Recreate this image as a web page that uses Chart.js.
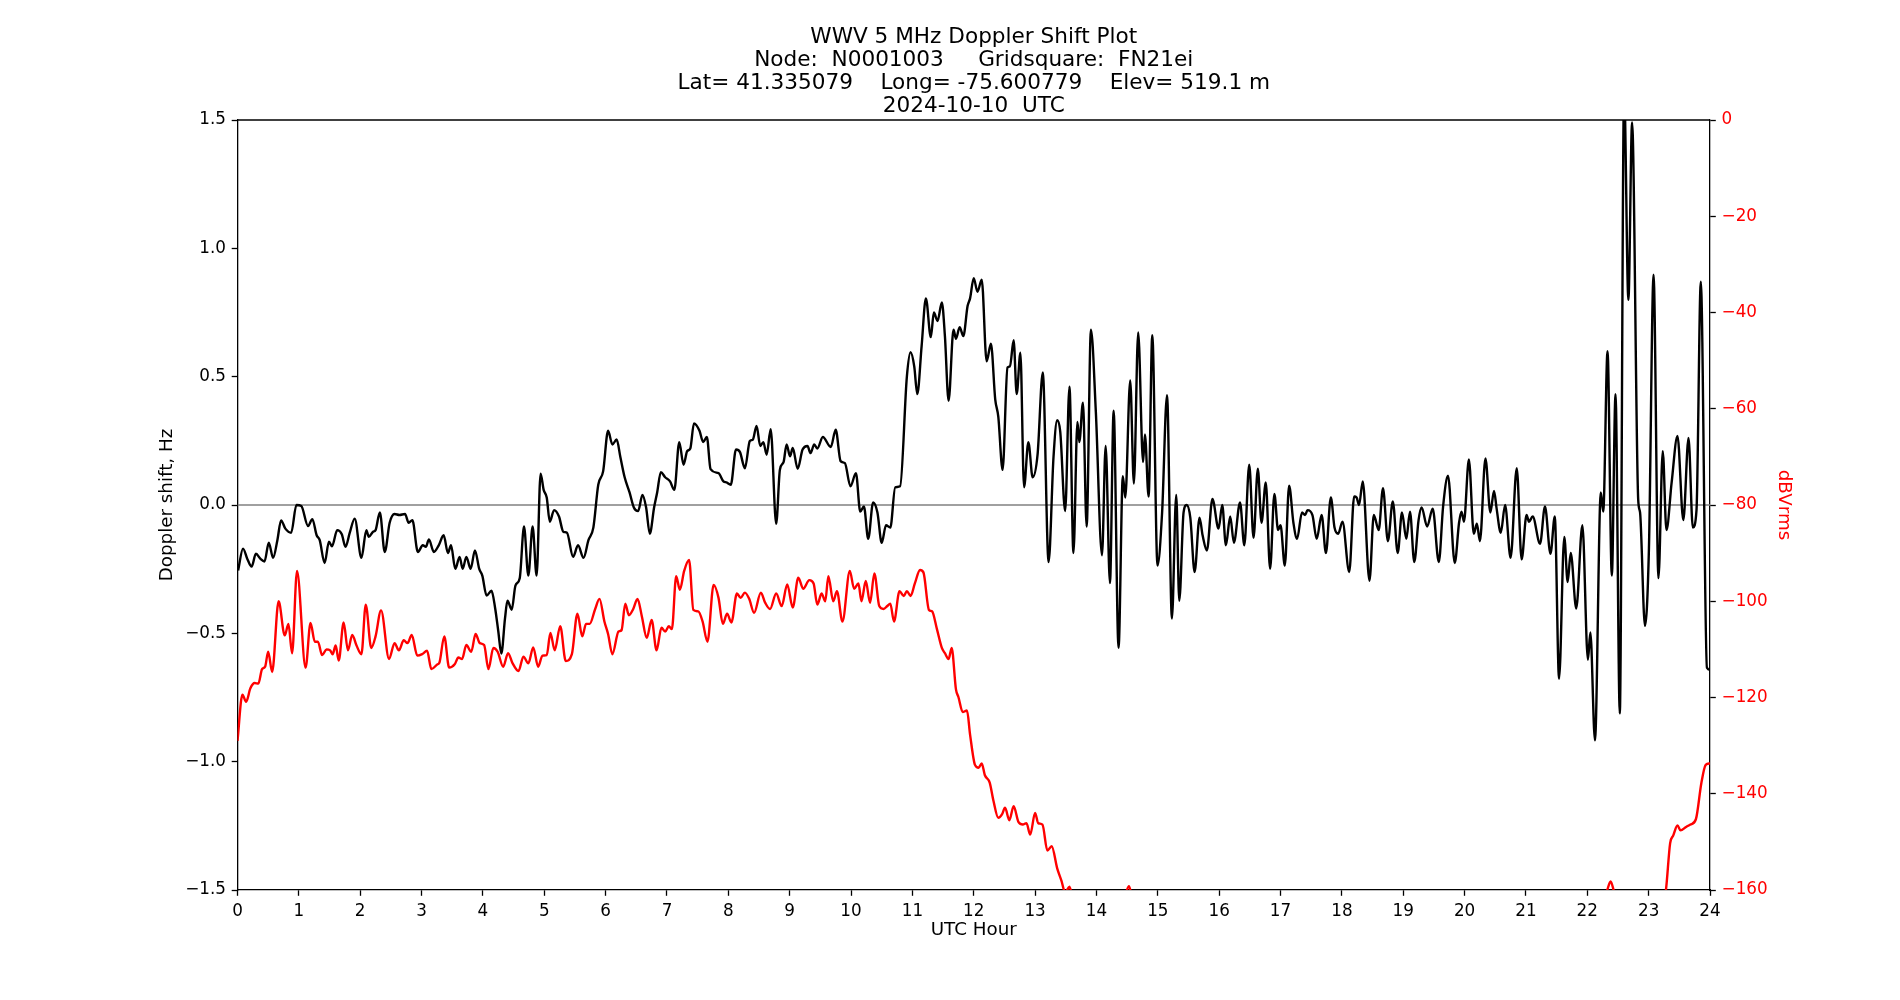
<!DOCTYPE html>
<html><head><meta charset="utf-8">
<script src="https://cdn.jsdelivr.net/npm/chart.js@4.4.1/dist/chart.umd.min.js"></script>
<style>html,body{margin:0;padding:0;background:#fff;}canvas{display:block;}</style>
</head><body>
<canvas id="c" width="1900" height="1000"></canvas>
<script>
const titleLines = [
  "WWV 5 MHz Doppler Shift Plot",
  "Node:  N0001003     Gridsquare:  FN21ei",
  "Lat= 41.335079    Long= -75.600779    Elev= 519.1 m",
  "2024-10-10  UTC"
];
const xAxisLabel = "UTC Hour";
const leftAxisLabel = "Doppler shift, Hz";
const rightAxisLabel = "dBVrms";

const hourTicks = [0,1,2,3,4,5,6,7,8,9,10,11,12,13,14,15,16,17,18,19,20,21,22,23,24];
const dopplerTicks = [-1.5,-1.0,-0.5,0.0,0.5,1.0,1.5];
const powerTicks = [-160,-140,-120,-100,-80,-60,-40,-20,0];

const dopplerHours = [0.01,0.09,0.16,0.23,0.30,0.375,0.44,0.51,0.58,0.65,0.71,0.78,0.875,0.96,1.04,1.15,1.22,1.29,1.34,1.42,1.49,1.54,1.625,1.70,1.76,1.83,1.91,2.02,2.10,2.14,2.21,2.25,2.32,2.40,2.48,2.56,2.64,2.73,2.79,2.85,2.94,3.02,3.07,3.12,3.20,3.28,3.36,3.43,3.48,3.55,3.62,3.67,3.73,3.80,3.87,3.94,3.99,4.06,4.14,4.20,4.25,4.30,4.36,4.40,4.47,4.53,4.60,4.67,4.74,4.81,4.875,4.94,4.99,5.04,5.09,5.16,5.24,5.31,5.37,5.47,5.55,5.64,5.72,5.80,5.88,5.96,6.04,6.11,6.18,6.24,6.31,6.39,6.46,6.53,6.60,6.66,6.72,6.79,6.84,6.90,6.97,7.05,7.12,7.20,7.27,7.33,7.38,7.44,7.53,7.59,7.65,7.71,7.84,7.92,7.97,8.04,8.125,8.19,8.27,8.35,8.40,8.46,8.52,8.57,8.625,8.69,8.78,8.84,8.90,8.95,9.005,9.05,9.13,9.21,9.29,9.34,9.40,9.45,9.54,9.67,9.75,9.83,9.90,9.99,10.08,10.15,10.21,10.28,10.36,10.43,10.50,10.57,10.64,10.72,10.80,10.91,10.97,11.03,11.08,11.15,11.22,11.30,11.35,11.41,11.48,11.53,11.59,11.67,11.71,11.77,11.83,11.90,11.94,12.00,12.06,12.13,12.21,12.28,12.35,12.40,12.47,12.55,12.59,12.65,12.70,12.76,12.82,12.89,12.96,13.04,13.125,13.22,13.30,13.36,13.41,13.49,13.56,13.625,13.69,13.72,13.78,13.84,13.91,13.99,14.09,14.15,14.22,14.28,14.36,14.43,14.47,14.55,14.61,14.68,14.76,14.79,14.85,14.91,14.995,15.07,15.15,15.23,15.30,15.35,15.42,15.47,15.53,15.60,15.68,15.73,15.80,15.89,15.99,16.05,16.11,16.18,16.24,16.34,16.41,16.49,16.56,16.63,16.69,16.76,16.83,16.90,16.96,17.00,17.07,17.14,17.21,17.27,17.35,17.40,17.44,17.52,17.59,17.67,17.74,17.82,17.88,17.94,18.01,18.12,18.20,18.24,18.28,18.34,18.45,18.52,18.60,18.67,18.75,18.83,18.91,18.98,19.05,19.11,19.18,19.25,19.30,19.39,19.48,19.58,19.65,19.73,19.84,19.91,19.95,19.99,20.07,20.15,20.20,20.25,20.34,20.42,20.48,20.52,20.59,20.66,20.75,20.85,20.93,21.01,21.05,21.11,21.23,21.31,21.40,21.47,21.54,21.625,21.68,21.73,21.82,21.92,22.01,22.05,22.125,22.22,22.26,22.33,22.40,22.46,22.53,22.60,22.67,22.73,22.83,22.86,22.94,23.005,23.08,23.16,23.23,23.29,23.375,23.47,23.565,23.65,23.72,23.78,23.85,23.95,24.0];
const dopplerHz = [-0.255,-0.17,-0.21,-0.24,-0.19,-0.21,-0.22,-0.147,-0.206,-0.137,-0.06,-0.092,-0.108,0.0,-0.004,-0.082,-0.055,-0.118,-0.137,-0.226,-0.143,-0.161,-0.098,-0.114,-0.163,-0.108,-0.053,-0.206,-0.098,-0.124,-0.104,-0.098,-0.029,-0.183,-0.069,-0.035,-0.039,-0.035,-0.069,-0.059,-0.183,-0.157,-0.163,-0.134,-0.183,-0.157,-0.118,-0.187,-0.157,-0.249,-0.202,-0.249,-0.202,-0.249,-0.177,-0.249,-0.275,-0.353,-0.334,-0.403,-0.491,-0.579,-0.442,-0.373,-0.408,-0.314,-0.285,-0.084,-0.275,-0.084,-0.275,0.122,0.059,0.029,-0.065,-0.020,-0.045,-0.104,-0.108,-0.202,-0.157,-0.206,-0.137,-0.088,0.079,0.132,0.289,0.236,0.255,0.187,0.108,0.049,-0.010,-0.024,0.039,-0.010,-0.112,-0.010,0.049,0.128,0.108,0.092,0.059,0.245,0.157,0.210,0.220,0.318,0.289,0.245,0.265,0.14,0.124,0.092,0.088,0.079,0.216,0.206,0.143,0.249,0.255,0.308,0.230,0.245,0.196,0.295,-0.073,0.137,0.167,0.236,0.190,0.222,0.141,0.216,0.230,0.202,0.236,0.220,0.265,0.226,0.293,0.171,0.163,0.073,0.124,-0.026,-0.006,-0.132,0.010,-0.029,-0.147,-0.079,-0.088,0.069,0.073,0.50,0.595,0.540,0.432,0.618,0.805,0.654,0.750,0.717,0.789,0.658,0.406,0.683,0.648,0.693,0.658,0.776,0.805,0.884,0.831,0.878,0.560,0.628,0.412,0.344,0.137,0.536,0.540,0.642,0.432,0.593,0.069,0.245,0.108,0.196,0.516,-0.222,0.187,0.330,0.285,-0.024,0.461,-0.187,0.324,0.245,0.399,-0.084,0.683,0.363,-0.196,0.230,-0.304,0.367,-0.556,0.112,0.029,0.485,0.084,0.672,0.167,0.275,0.033,0.662,-0.236,-0.029,0.428,-0.442,0.039,-0.373,-0.029,0.0,-0.05,-0.261,-0.049,-0.118,-0.177,0.024,-0.092,0.0,-0.157,-0.045,-0.147,0.010,-0.157,0.157,-0.128,0.141,-0.069,0.088,-0.249,0.043,-0.098,-0.079,-0.236,0.075,-0.069,-0.132,-0.029,-0.039,-0.020,-0.039,-0.132,-0.039,-0.187,0.029,-0.088,-0.112,-0.065,-0.261,0.033,0.029,0.0,0.092,-0.295,-0.039,-0.098,0.065,-0.141,0.014,-0.187,-0.029,-0.132,-0.026,-0.222,-0.059,-0.010,-0.084,-0.014,-0.222,-0.005,0.114,-0.226,-0.069,-0.026,-0.065,0.177,-0.112,-0.073,-0.141,0.181,-0.029,0.055,-0.010,-0.108,0.0,-0.206,0.143,-0.212,-0.039,-0.065,-0.045,-0.151,-0.006,-0.190,-0.045,-0.677,-0.124,-0.300,-0.187,-0.403,-0.079,-0.603,-0.497,-0.917,0.049,-0.026,0.599,-0.275,0.432,-0.812,1.62,0.799,1.49,0.020,-0.029,-0.471,-0.167,0.897,-0.285,0.210,-0.098,0.088,0.269,-0.059,0.261,-0.088,-0.020,0.870,-0.634,-0.642];

const powerHours = [0.0,0.08,0.14,0.21,0.28,0.34,0.40,0.45,0.50,0.565,0.67,0.77,0.83,0.89,0.97,1.11,1.19,1.26,1.31,1.38,1.45,1.51,1.55,1.60,1.65,1.73,1.80,1.87,1.94,2.02,2.09,2.18,2.25,2.34,2.47,2.56,2.63,2.71,2.77,2.84,2.93,3.01,3.09,3.16,3.26,3.29,3.37,3.45,3.54,3.60,3.66,3.73,3.81,3.88,3.95,4.02,4.09,4.17,4.24,4.33,4.41,4.48,4.58,4.66,4.74,4.82,4.90,4.97,5.04,5.10,5.17,5.26,5.35,5.45,5.54,5.62,5.68,5.74,5.83,5.90,5.98,6.04,6.11,6.21,6.26,6.32,6.38,6.45,6.52,6.59,6.67,6.75,6.83,6.91,6.97,7.03,7.08,7.15,7.21,7.28,7.36,7.43,7.51,7.58,7.66,7.76,7.84,7.91,7.98,8.05,8.14,8.20,8.27,8.34,8.42,8.53,8.60,8.68,8.78,8.87,8.96,9.05,9.14,9.22,9.32,9.39,9.45,9.52,9.58,9.63,9.71,9.77,9.86,9.98,10.05,10.12,10.17,10.24,10.31,10.38,10.46,10.53,10.59,10.64,10.70,10.79,10.86,10.91,10.97,11.04,11.125,11.18,11.27,11.32,11.40,11.48,11.53,11.59,11.64,11.71,11.75,11.82,11.89,11.94,12.02,12.08,12.13,12.18,12.26,12.32,12.40,12.46,12.51,12.58,12.65,12.73,12.80,12.86,12.92,13.00,13.05,13.12,13.20,13.27,13.36,13.43,13.49,13.56,13.63,13.80,14.05,14.30,14.45,14.53,14.60,14.80,15.50,16.50,17.50,18.50,19.50,20.50,21.50,22.10,22.32,22.38,22.44,22.60,22.90,23.15,23.28,23.35,23.40,23.47,23.52,23.61,23.68,23.77,23.86,23.93,24.0];
const powerDb = [-129,-119.4,-120.9,-118.1,-117.0,-117.1,-114.1,-113.6,-110.5,-114.7,-100.0,-107.1,-104.7,-110.8,-93.7,-113.8,-104.5,-108.4,-108.4,-111.2,-110.0,-110.2,-111.0,-109.2,-112.3,-104.4,-110.2,-107.0,-109.2,-111.0,-100.7,-109.7,-107.3,-101.9,-112.0,-108.7,-110.2,-108.1,-108.7,-107.0,-111.3,-111.0,-110.3,-114.1,-113.1,-112.8,-107.3,-113.8,-113.1,-111.7,-112.0,-109.1,-110.5,-106.8,-108.7,-109.1,-114.1,-109.7,-110.5,-113.6,-110.8,-112.8,-114.5,-111.5,-112.9,-109.6,-113.6,-111.3,-111.2,-106.6,-110.2,-105.2,-112.4,-111.0,-102.6,-107.3,-104.7,-104.7,-101.6,-99.5,-104.2,-106.8,-111.0,-106.3,-106.0,-100.5,-102.9,-101.6,-99.5,-103.1,-107.6,-103.9,-110.2,-105.5,-106.3,-105.2,-105.8,-94.8,-97.6,-93.7,-91.4,-101.8,-102.1,-104.2,-108.4,-96.6,-99.3,-104.7,-102.6,-104.4,-98.4,-99.3,-98.2,-99.5,-102.4,-98.2,-100.3,-101.6,-98.4,-101.0,-96.5,-101.3,-95.1,-97.4,-95.6,-96.3,-100.7,-98.4,-100.0,-94.8,-100.0,-97.9,-104.2,-93.7,-97.4,-96.3,-100.0,-95.8,-100.3,-94.2,-101.0,-101.6,-101.0,-100.5,-104.2,-97.9,-98.9,-97.9,-98.9,-96.3,-93.5,-94.0,-101.8,-102.1,-105.8,-109.7,-110.8,-112.0,-109.7,-118.3,-119.9,-123.0,-122.7,-127.7,-134.0,-134.6,-133.7,-136.1,-137.7,-141.4,-145.0,-144.3,-142.9,-145.5,-142.6,-145.9,-146.4,-146.1,-148.5,-144.0,-146.1,-146.4,-151.8,-150.9,-155.5,-158.1,-160.5,-159.3,-163,-168,-171,-166,-162,-159.2,-163,-170,-174,-176,-175,-177,-176,-175,-172,-166,-160.2,-158.2,-160.5,-166,-170,-166,-160.2,-150.3,-148.7,-146.6,-147.6,-146.9,-146.4,-145.3,-137.7,-134.0,-133.7];

const zeroHours = [0, 24];
const zeroHz = [0, 0];

const toXY = (xs, ys) => xs.map((x, i) => ({x, y: ys[i]}));
const minusFmt = (v, d) => (v < -1e-9 ? '\u2212' : '') + Math.abs(v).toFixed(d);
const FONT = "'DejaVu Sans', sans-serif";
const TICK_FONT = {family: FONT, size: 16.8};
const LABEL_FONT = {family: FONT, size: 18.3, lineHeight: 1.2};

const topSpine = {
  id: 'topSpine',
  afterDatasetsDraw(chart) {
    const {ctx, chartArea: {left, right, top}} = chart;
    ctx.save();
    ctx.strokeStyle = '#000';
    ctx.lineWidth = 1.3;
    ctx.beginPath();
    ctx.moveTo(left, top);
    ctx.lineTo(right, top);
    ctx.stroke();
    ctx.restore();
  }
};

new Chart(document.getElementById('c'), {
  type: 'line',
  data: {
    datasets: [
      {label: 'power', data: toXY(powerHours, powerDb), yAxisID: 'y1', borderColor: '#ff0000', borderWidth: 2.4, pointRadius: 0, cubicInterpolationMode: 'monotone', order: 0},
      {label: 'doppler', data: toXY(dopplerHours, dopplerHz), yAxisID: 'y', borderColor: '#000000', borderWidth: 2.4, pointRadius: 0, cubicInterpolationMode: 'monotone', order: 1},
      {label: 'zero', data: toXY(zeroHours, zeroHz), yAxisID: 'y', borderColor: '#808080', borderWidth: 1.3, pointRadius: 0, order: 2}
    ]
  },
  options: {
    responsive: false,
    devicePixelRatio: 1,
    animation: false,
    events: [],
    layout: {padding: 0},
    plugins: {
      legend: {display: false},
      tooltip: {enabled: false},
      title: {
        display: true, text: titleLines, color: '#000', fullSize: false,
        font: {family: FONT, size: 21.6, weight: 'normal', lineHeight: 23.2 / 21.6},
        padding: {top: 25.4, bottom: 1.8}
      }
    },
    scales: {
      x: {
        type: 'linear', min: 0, max: 24, offset: false,
        afterBuildTicks: s => { s.ticks = hourTicks.map(v => ({value: v})); },
        afterFit: s => { s.height = 110; },
        ticks: {color: '#000', font: TICK_FONT, padding: 5.6, maxRotation: 0, autoSkip: false, callback: v => String(v)},
        grid: {display: true, drawOnChartArea: false, drawTicks: true, tickLength: 5.8, tickColor: '#000', tickWidth: 1.3},
        border: {display: true, color: '#000', width: 1.3},
        title: {display: true, text: xAxisLabel, color: '#000', font: LABEL_FONT, padding: {top: 0, bottom: 58.5}}
      },
      y: {
        type: 'linear', position: 'left', min: -1.5, max: 1.5,
        afterBuildTicks: s => { s.ticks = dopplerTicks.map(v => ({value: v})); },
        afterFit: s => { s.width = 237.5; },
        ticks: {color: '#000', font: TICK_FONT, padding: 5.8, callback: v => minusFmt(v, 1)},
        grid: {display: true, drawOnChartArea: false, drawTicks: true, tickLength: 5.8, tickColor: '#000', tickWidth: 1.3},
        border: {display: true, color: '#000', width: 1.3},
        title: {display: true, text: leftAxisLabel, color: '#000', font: LABEL_FONT, padding: {top: 156.5, bottom: 0}}
      },
      y1: {
        type: 'linear', position: 'right', min: -160, max: 0,
        afterBuildTicks: s => { s.ticks = powerTicks.map(v => ({value: v})); },
        afterFit: s => { s.width = 190; },
        ticks: {color: '#ff0000', font: TICK_FONT, padding: 5.8, callback: v => minusFmt(v, 0)},
        grid: {display: true, drawOnChartArea: false, drawTicks: true, tickLength: 5.8, tickColor: '#000', tickWidth: 1.3},
        border: {display: true, color: '#000', width: 1.3},
        title: {display: true, text: rightAxisLabel, color: '#ff0000', font: LABEL_FONT, padding: {top: 105.5, bottom: 0}}
      }
    }
  },
  plugins: [topSpine]
});
</script>
</body></html>
